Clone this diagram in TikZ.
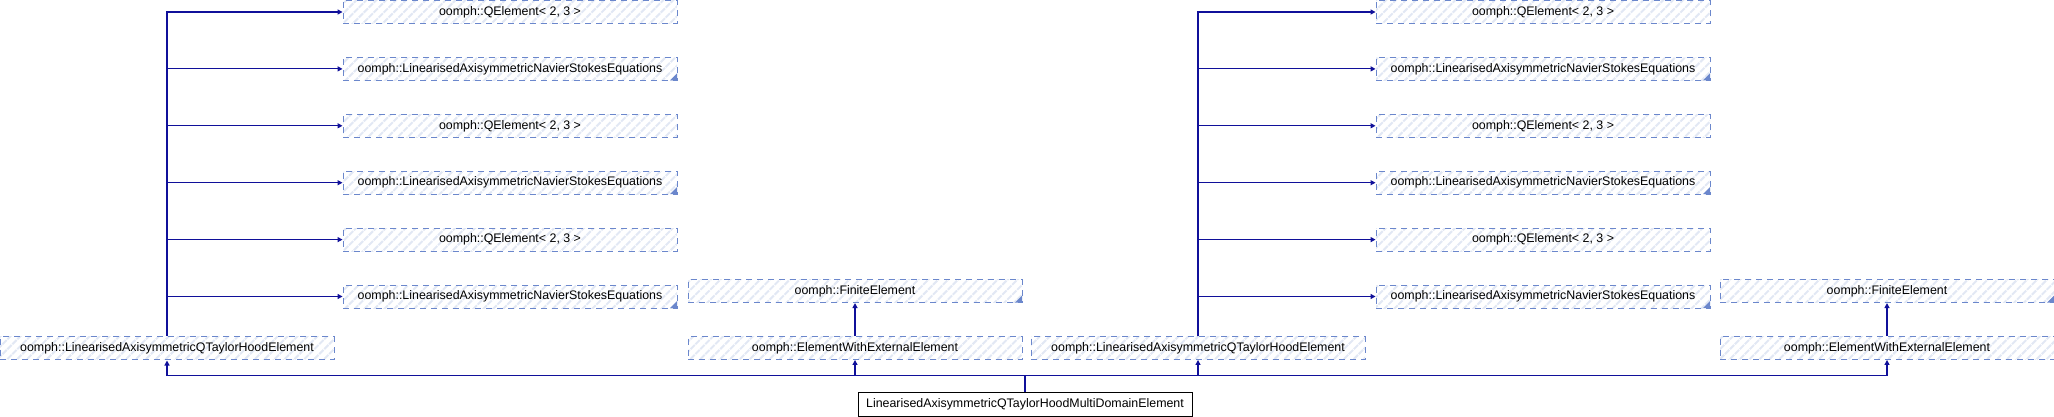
\documentclass[tikz,border=0pt]{standalone}
\usepackage{fontspec}
\setmainfont{Liberation Sans}
\usepackage{tikz}
\usetikzlibrary{arrows.meta, positioning, patterns.meta}
\definecolor{dxblue}{HTML}{10109A}
\definecolor{dxframe}{HTML}{6B87CC}
\definecolor{dxhatch}{HTML}{E2E8F4}

\begin{document}
\begin{tikzpicture}[x=1pt, y=1pt,
  node distance=33pt and 10pt,
  klasse/.style={rectangle, draw=dxframe, dash pattern=on 6pt off 5pt, line width=0.9pt,
               pattern={Lines[angle=45, distance=7pt, line width=2pt]}, pattern color=dxhatch,
               minimum width=334pt, minimum height=23pt, inner sep=0pt,
               font=\fontsize{12.4}{14}\selectfont},
  gekappt/.style={path picture={\fill[dxframe] (path picture bounding box.south east)
               -- ++(-7,0) -- ++(7,7) -- cycle;}},
  haupt/.style={rectangle, draw=black, fill=white, line width=0.9pt,
               minimum width=334pt, minimum height=24pt, inner sep=0pt,
               font=\fontsize{12.4}{14}\selectfont},
  arr/.style={-{Triangle[length=5pt, width=5pt]}, line width=1.2pt, dxblue}]
\useasboundingbox (0,0) rectangle (2054,416);
% linke Seite
\node[klasse] (th1) at (167,68) {oomph::LinearisedAxisymmetricQTaylorHoodElement};
\node[klasse] (qa1) at (510,404) {oomph::QElement< 2, 3 >};
\node[klasse, gekappt, below=of qa1] (na1) {oomph::LinearisedAxisymmetricNavierStokesEquations};
\node[klasse, below=of na1] (qa2) {oomph::QElement< 2, 3 >};
\node[klasse, gekappt, below=of qa2] (na2) {oomph::LinearisedAxisymmetricNavierStokesEquations};
\node[klasse, below=of na2] (qa3) {oomph::QElement< 2, 3 >};
\node[klasse, gekappt, below=of qa3] (na3) {oomph::LinearisedAxisymmetricNavierStokesEquations};
\node[klasse] (ew1) at (855,68) {oomph::ElementWithExternalElement};
\node[klasse, gekappt, above=of ew1] (fe1) {oomph::FiniteElement};
% rechte Seite
\node[klasse] (th2) at (1198,68) {oomph::LinearisedAxisymmetricQTaylorHoodElement};
\node[klasse] (qb1) at (1543,404) {oomph::QElement< 2, 3 >};
\node[klasse, gekappt, below=of qb1] (nb1) {oomph::LinearisedAxisymmetricNavierStokesEquations};
\node[klasse, below=of nb1] (qb2) {oomph::QElement< 2, 3 >};
\node[klasse, gekappt, below=of qb2] (nb2) {oomph::LinearisedAxisymmetricNavierStokesEquations};
\node[klasse, below=of nb2] (qb3) {oomph::QElement< 2, 3 >};
\node[klasse, gekappt, below=of qb3] (nb3) {oomph::LinearisedAxisymmetricNavierStokesEquations};
\node[klasse] (ew2) at (1887,68) {oomph::ElementWithExternalElement};
\node[klasse, gekappt, above=of ew2] (fe2) {oomph::FiniteElement};
% unten
\node[haupt] (md) at (1025,12) {LinearisedAxisymmetricQTaylorHoodMultiDomainElement};
\draw[arr] (th1.north) |- (qa1.west); \draw[arr] (th1.north) |- (na1.west);
\draw[arr] (th1.north) |- (qa2.west); \draw[arr] (th1.north) |- (na2.west);
\draw[arr] (th1.north) |- (qa3.west); \draw[arr] (th1.north) |- (na3.west);
\draw[arr] (th2.north) |- (qb1.west); \draw[arr] (th2.north) |- (nb1.west);
\draw[arr] (th2.north) |- (qb2.west); \draw[arr] (th2.north) |- (nb2.west);
\draw[arr] (th2.north) |- (qb3.west); \draw[arr] (th2.north) |- (nb3.west);
\draw[arr] (ew1) -- (fe1); \draw[arr] (ew2) -- (fe2);
\draw[arr] (md.north) -- ++(0,16) -| (th1.south);
\draw[arr] (md.north) -- ++(0,16) -| (ew1.south);
\draw[arr] (md.north) -- ++(0,16) -| (th2.south);
\draw[arr] (md.north) -- ++(0,16) -| (ew2.south);
\end{tikzpicture}
\end{document}
